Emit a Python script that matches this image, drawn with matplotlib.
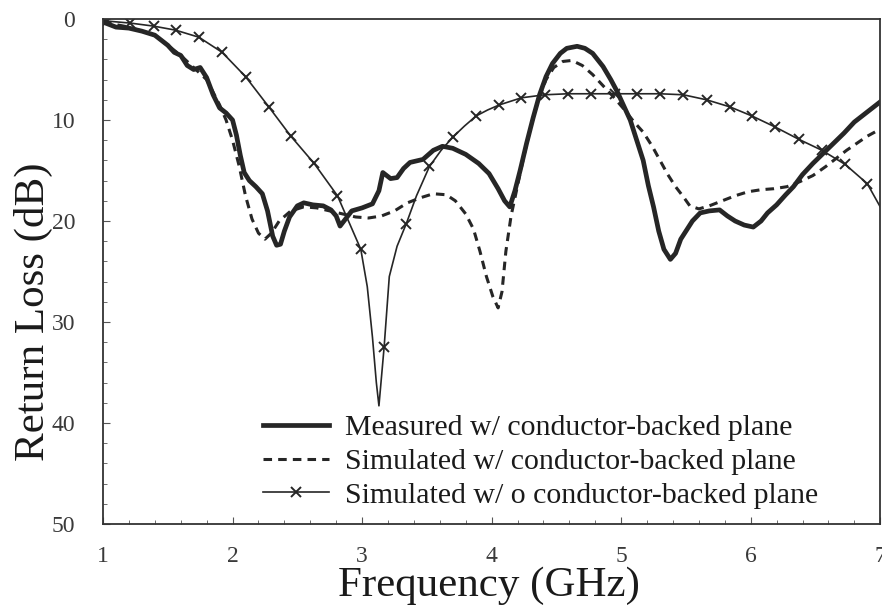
import numpy as np
import matplotlib.pyplot as plt
from matplotlib.ticker import MultipleLocator

plt.rcParams['font.family'] = ['Liberation Serif', 'DejaVu Serif']

# Measured return loss, conductor-backed plane
meas_freq = [1.00, 1.10, 1.20, 1.30, 1.40, 1.50, 1.55, 1.60, 1.65, 1.70, 1.75, 1.80,
             1.85, 1.90, 1.95, 2.00, 2.03, 2.06, 2.09, 2.13, 2.18, 2.23, 2.27, 2.31,
             2.34, 2.37, 2.40, 2.44, 2.50, 2.55, 2.62, 2.70, 2.76, 2.80, 2.83, 2.86,
             2.92, 3.00, 3.08, 3.13, 3.16, 3.22, 3.27, 3.32, 3.37, 3.47, 3.55, 3.62,
             3.70, 3.80, 3.90, 3.98, 4.05, 4.10, 4.14, 4.18, 4.22, 4.27, 4.32, 4.37,
             4.42, 4.47, 4.53, 4.58, 4.66, 4.72, 4.78, 4.86, 4.92, 4.97, 5.02, 5.07,
             5.12, 5.17, 5.21, 5.25, 5.29, 5.33, 5.38, 5.42, 5.46, 5.50, 5.55, 5.61,
             5.68, 5.76, 5.82, 5.88, 5.95, 6.02, 6.08, 6.13, 6.20, 6.27, 6.33, 6.40,
             6.48, 6.56, 6.64, 6.72, 6.80, 6.90, 7.00]
meas_loss = [0.3, 0.8, 0.9, 1.2, 1.6, 2.6, 3.3, 3.6, 4.6, 5.0, 4.8, 5.8,
             7.5, 8.8, 9.3, 10.0, 11.5, 13.5, 15.2, 16.0, 16.6, 17.3, 19.0, 21.5,
             22.4, 22.3, 21.0, 19.6, 18.5, 18.2, 18.4, 18.5, 18.9, 19.5, 20.5, 20.0,
             19.0, 18.7, 18.3, 17.0, 15.2, 15.8, 15.7, 14.8, 14.2, 13.9, 13.0, 12.6,
             12.8, 13.4, 14.3, 15.3, 16.8, 18.0, 18.6, 17.0, 15.0, 12.3, 9.8, 7.5,
             5.7, 4.4, 3.4, 2.9, 2.7, 2.9, 3.4, 4.7, 6.0, 7.2, 8.6, 10.0,
             12.0, 14.0, 16.5, 18.6, 21.0, 22.8, 23.8, 23.2, 21.8, 21.0, 20.0, 19.2,
             19.0, 18.9, 19.5, 20.0, 20.4, 20.6, 20.0, 19.2, 18.4, 17.4, 16.6, 15.4,
             14.3, 13.3, 12.3, 11.3, 10.2, 9.2, 8.2]

# Simulated, conductor-backed plane
sim_freq = [1.00, 1.20, 1.40, 1.50, 1.60, 1.70, 1.80, 1.90, 1.95, 2.00, 2.05, 2.10,
            2.15, 2.20, 2.25, 2.30, 2.36, 2.45, 2.55, 2.65, 2.75, 2.85, 2.95, 3.05,
            3.15, 3.25, 3.35, 3.45, 3.55, 3.65, 3.72, 3.80, 3.86, 3.91, 3.96, 4.01,
            4.05, 4.08, 4.11, 4.15, 4.20, 4.25, 4.30, 4.36, 4.42, 4.48, 4.55, 4.62,
            4.70, 4.78, 4.86, 4.94, 5.02, 5.10, 5.17, 5.24, 5.30, 5.36, 5.42, 5.48,
            5.53, 5.60, 5.68, 5.78, 5.88, 5.98, 6.08, 6.18, 6.28, 6.38, 6.48, 6.58,
            6.66, 6.74, 6.82, 6.90, 7.00]
sim_loss = [0.3, 0.8, 1.6, 2.6, 3.6, 4.8, 6.0, 8.5, 10.0, 12.0, 14.5, 17.5,
            19.8, 21.2, 21.8, 21.2, 20.0, 19.0, 18.6, 18.7, 19.0, 19.3, 19.6, 19.7,
            19.5, 19.0, 18.2, 17.7, 17.3, 17.4, 18.0, 19.3, 20.8, 23.0, 25.5, 27.5,
            28.6, 27.0, 23.0, 19.5, 16.5, 13.5, 10.8, 8.0, 6.0, 4.8, 4.2, 4.1,
            4.6, 5.5, 6.6, 7.7, 8.9, 10.2, 11.2, 12.6, 14.0, 15.4, 16.6, 17.6,
            18.5, 18.8, 18.5, 18.0, 17.5, 17.1, 16.9, 16.8, 16.6, 16.1, 15.5, 14.6,
            13.8, 13.0, 12.3, 11.6, 10.9]

# Simulated, without conductor-backed plane
nb_freq = [1.00, 1.03, 1.21, 1.39, 1.56, 1.74, 1.92, 2.10, 2.28, 2.45, 2.63, 2.81,
           2.99, 3.04, 3.08, 3.11, 3.13, 3.17, 3.21, 3.27, 3.34, 3.42, 3.52, 3.61,
           3.70, 3.79, 3.88, 3.97, 4.06, 4.23, 4.41, 4.59, 4.77, 4.95, 5.12, 5.30,
           5.48, 5.66, 5.84, 6.01, 6.19, 6.37, 6.55, 6.73, 6.90, 7.00]
nb_loss = [0.1, 0.2, 0.4, 0.7, 1.1, 1.8, 3.3, 5.7, 8.7, 11.6, 14.3, 17.5,
           22.8, 26.5, 31.5, 36.0, 38.3, 32.5, 25.5, 22.5, 20.3, 17.5, 14.6, 13.0,
           11.7, 10.6, 9.6, 9.0, 8.5, 7.8, 7.5, 7.4, 7.4, 7.4, 7.4, 7.4,
           7.5, 8.0, 8.7, 9.6, 10.7, 11.9, 13.0, 14.4, 16.3, 18.6]

labels = ['Measured w/ conductor-backed plane',
          'Simulated w/ conductor-backed plane',
          'Simulated w/ o conductor-backed plane']

ink = '#262626'

fig = plt.figure(figsize=(8.82, 6.14), dpi=100)
ax = fig.add_axes([0.1168, 0.1466, 0.8812, 0.8224])

ax.plot(meas_freq, meas_loss, color=ink, lw=3.4, solid_joinstyle='round',
        label=labels[0])
ax.plot(sim_freq, sim_loss, color=ink, lw=2.2, ls=(0, (2.8, 2.0)),
        label=labels[1])

# markers sit on a regular frequency step along the curve
nb_arr = np.array(nb_freq)
mark_idx = sorted({int(np.abs(nb_arr - f).argmin())
                   for f in np.arange(1.03, 7.0, 0.178)})
ax.plot(nb_freq, nb_loss, color=ink, lw=1.2, marker='x', markersize=7,
        markeredgewidth=1.4, markevery=mark_idx, label=labels[2])

ax.set_xlim(1, 7)
ax.set_ylim(50, 0)
ax.xaxis.set_major_locator(MultipleLocator(1))
ax.xaxis.set_minor_locator(MultipleLocator(0.2))
ax.yaxis.set_major_locator(MultipleLocator(10))
ax.yaxis.set_minor_locator(MultipleLocator(2))
ax.tick_params(which='both', direction='in', color='#555555', labelcolor='#3a3a3a',
               labelsize=17)
ax.tick_params(which='major', length=5, width=0.8)
ax.tick_params(which='minor', length=3, width=0.6)
ax.tick_params(axis='x', which='major', pad=16)
ax.tick_params(axis='y', which='major', pad=20)
for s in ax.spines.values():
    s.set_color('#333333')
    s.set_linewidth(1.3)

ax.set_xlabel('Frequency (GHz)', fontsize=31, color='#1a1a1a')
ax.xaxis.set_label_coords(0.497, -0.084)
ax.set_ylabel('Return Loss (dB)', fontsize=31, color='#1a1a1a')
ax.yaxis.set_label_coords(-0.064, 0.42)

ax.legend(loc='lower left', bbox_to_anchor=(0.206, 0.03), frameon=False,
          fontsize=21.5, handlelength=2.2, handletextpad=0.53,
          labelspacing=0.23, borderaxespad=0, borderpad=0,
          labelcolor='#1a1a1a')

fig.savefig('out.png', dpi=100)
